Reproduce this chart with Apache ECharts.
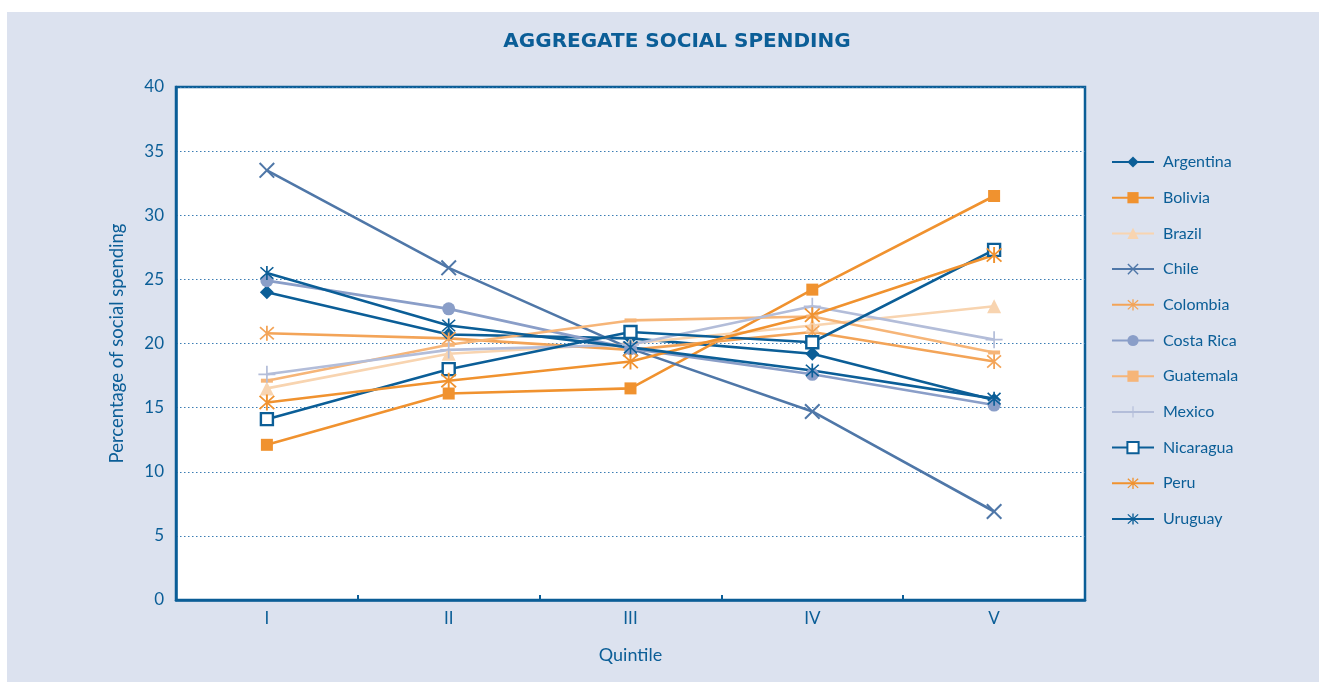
<!DOCTYPE html>
<html>
<head>
<meta charset="utf-8">
<script src="https://cdn.jsdelivr.net/npm/echarts@6/dist/echarts.min.js"></script>
<style>
  html, body { margin: 0; padding: 0; background: #ffffff; }
  #panel { position: absolute; left: 7px; top: 12px; width: 1312px; height: 670px; background: #dce2ef; }
  #chart { position: absolute; left: 0; top: 0; width: 1319px; height: 682px; }
</style>
</head>
<body>
<div id="panel"></div>
<div id="chart"></div>
<script>
// Quintile categories and y-axis range
const quintiles = ['I', 'II', 'III', 'IV', 'V'];
const yTicks = { min: 0, max: 40, interval: 5 };

// Share of aggregate social spending received by each quintile (%)
const argentina = [24.0, 20.7, 20.4, 19.2, 15.6];
const bolivia   = [12.1, 16.1, 16.5, 24.2, 31.5];
const brazil    = [16.5, 19.2, 20.0, 21.4, 22.9];
const chile     = [33.5, 25.9, 19.6, 14.7, 6.9];
const colombia  = [20.8, 20.4, 19.5, 20.9, 18.6];
const costaRica = [24.9, 22.7, 19.6, 17.6, 15.2];
const guatemala = [17.1, 19.9, 21.8, 22.1, 19.3];
const mexico    = [17.6, 19.5, 19.9, 22.9, 20.3];
const nicaragua = [14.1, 18.0, 20.9, 20.1, 27.3];
const peru      = [15.4, 17.1, 18.6, 22.2, 26.9];
const uruguay   = [25.5, 21.4, 19.7, 17.9, 15.7];

// Marker shapes (filled outlines in a 20x20 box)
const X_PATH = 'path://M1.8,0 L10,8.2 L18.2,0 L20,1.8 L11.8,10 L20,18.2 L18.2,20 L10,11.8 L1.8,20 L0,18.2 L8.2,10 L0,1.8 Z';
const PLUS_PATH = 'path://M9,0 L11,0 L11,9 L20,9 L20,11 L11,11 L11,20 L9,20 L9,11 L0,11 L0,9 L9,9 Z';
const STAR_PATH = 'path://M8.8,0 L11.2,0 L11.2,20 L8.8,20 Z M1.6,1 L10,8.6 L18.4,1 L20,2.6 L11.6,10 L20,17.4 L18.4,19 L10,11.4 L1.6,19 L0,17.4 L8.4,10 L0,2.6 Z';

const DARK = '#0b5e97';
const ORANGE = '#f0922f';

function line(name, data, color, symbol, size, extra) {
  const s = {
    name: name,
    type: 'line',
    data: data,
    symbol: symbol,
    symbolSize: size,
    showAllSymbol: true,
    lineStyle: { color: color, width: 2.6 },
    itemStyle: { color: color },
    emphasis: { disabled: true },
    animation: false
  };
  return Object.assign(s, extra || {});
}

const series = [
  line('Argentina', argentina, DARK, 'diamond', 14),
  line('Bolivia', bolivia, ORANGE, 'rect', 12),
  line('Brazil', brazil, '#f8d4b0', 'triangle', 14),
  line('Chile', chile, '#4f77a8', X_PATH, 16),
  line('Colombia', colombia, '#f3a458', STAR_PATH, 15),
  line('Costa Rica', costaRica, '#8a9ec8', 'circle', 13),
  line('Guatemala', guatemala, '#f6b578', 'rect', [12, 4]),
  line('Mexico', mexico, '#b3bdd9', PLUS_PATH, 17),
  line('Nicaragua', nicaragua, DARK, 'rect', 12, {
    itemStyle: { color: '#ffffff', borderColor: DARK, borderWidth: 2.4 }
  }),
  line('Peru', peru, ORANGE, STAR_PATH, 16),
  line('Uruguay', uruguay, DARK, STAR_PATH, 14)
];

const FONT = 'Lato';
const chart = echarts.init(document.getElementById('chart'), null, { renderer: 'canvas' });
chart.setOption({
  backgroundColor: 'transparent',
  textStyle: { fontFamily: FONT },
  title: {
    text: 'AGGREGATE SOCIAL SPENDING',
    left: 672, top: 27, textAlign: 'center',
    textStyle: { color: DARK, fontSize: 20, fontWeight: 'bold', fontFamily: 'DejaVu Sans' }
  },
  legend: {
    orient: 'vertical',
    left: 1106, top: 149,
    itemWidth: 42, itemHeight: 14, itemGap: 19.7,
    textStyle: { color: DARK, fontSize: 16, fontFamily: FONT, padding: [0, 0, 0, 4] },
    data: series.map(s => s.name)
  },
  grid: {
    left: 176, top: 87, right: 234, bottom: 82,
    show: true, backgroundColor: '#ffffff', borderColor: DARK, borderWidth: 2.5
  },
  xAxis: {
    type: 'category',
    data: quintiles,
    boundaryGap: true,
    name: 'Quintile',
    nameLocation: 'middle',
    nameGap: 46,
    nameTextStyle: { color: DARK, fontSize: 18, fontFamily: FONT },
    axisLine: { show: true, lineStyle: { color: DARK, width: 2.5 } },
    axisTick: { show: true, inside: true, length: 5, lineStyle: { color: DARK, width: 2 } },
    axisLabel: { color: DARK, fontSize: 17, margin: 10, fontFamily: FONT },
    splitLine: { show: false }
  },
  yAxis: {
    type: 'value',
    min: yTicks.min, max: yTicks.max, interval: yTicks.interval,
    name: 'Percentage of social spending',
    nameLocation: 'middle',
    nameGap: 49,
    nameTextStyle: { color: DARK, fontSize: 18.5, fontFamily: FONT },
    axisLine: { show: true, lineStyle: { color: DARK, width: 2.5 } },
    axisTick: { show: false },
    axisLabel: { color: DARK, fontSize: 17, margin: 12, fontFamily: FONT },
    splitLine: { show: true, lineStyle: { color: '#3b7db3', width: 1.2, type: [1.5, 2.5] } }
  },
  series: series
});
</script>
</body>
</html>
